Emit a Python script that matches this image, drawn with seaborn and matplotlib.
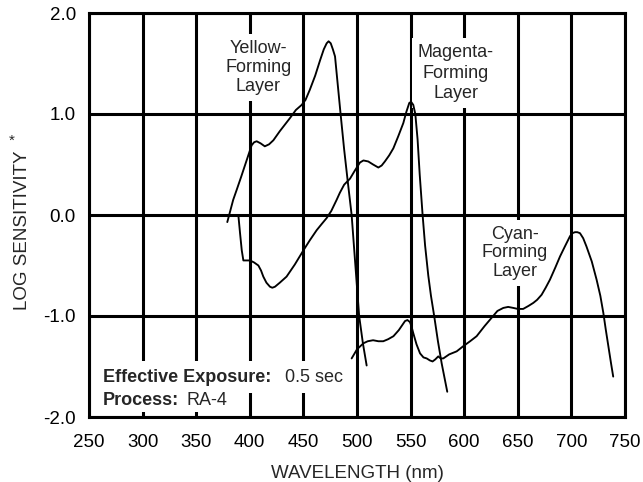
import matplotlib
matplotlib.use("Agg")
import matplotlib.pyplot as plt
import seaborn as sns
import pandas as pd

# ---- data ----
yellow_wl = [379, 381.5, 384.5, 387.8, 392, 397, 401.7, 404, 406.4, 410, 414, 418, 422, 428,
             437.5, 443, 448.4, 452, 456, 461, 465.5, 469, 471.7, 473.5, 475.5, 477.5, 479.5,
             481.5, 484.7, 488, 491.5, 495, 498.5, 502, 505.5, 509]
yellow_ls = [-0.07, 0.03, 0.15, 0.25, 0.38, 0.54, 0.69, 0.72, 0.73, 0.71, 0.68, 0.70, 0.74, 0.83,
             0.96, 1.04, 1.09, 1.14, 1.24, 1.38, 1.53, 1.64, 1.70, 1.72, 1.70, 1.64, 1.57,
             1.35, 1.0, 0.65, 0.32, 0.0, -0.5, -1.0, -1.27, -1.49]

magenta_wl = [389.3, 390.9, 392.5, 394, 397, 400.2, 404, 408, 410.5, 412.6, 415.5, 418.8, 421,
              423.5, 428, 434.3, 442, 450, 456, 462.4, 467, 471.7, 476, 481, 484, 488, 493.5,
              498, 502.8, 506, 510.5, 515, 519.9, 523, 526, 530, 533.9, 538.5, 543.2, 546,
              548.8, 550.5, 552.5, 554.4, 556.5, 558.5, 561.2, 563.5, 566.5, 569, 572, 575.5,
              579, 584.2]
magenta_ls = [0.0, -0.18, -0.35, -0.45, -0.45, -0.45, -0.47, -0.50, -0.55, -0.61, -0.67, -0.71,
              -0.72, -0.71, -0.67, -0.61, -0.49, -0.35, -0.25, -0.15, -0.09, -0.03, 0.04, 0.15,
              0.22, 0.30, 0.36, 0.44, 0.52, 0.54, 0.53, 0.50, 0.47, 0.49, 0.53, 0.59, 0.66, 0.78,
              0.91, 1.02, 1.11, 1.12, 1.09, 1.0, 0.75, 0.40, 0.0, -0.30, -0.60, -0.80, -1.0,
              -1.25, -1.47, -1.75]

cyan_wl = [495, 500, 506, 510, 515, 520, 524.5, 529, 534, 539, 544.8, 547, 549.4, 551, 552.5,
           555.5, 558.8, 562, 565, 568, 570.5, 573, 575.8, 578, 580.5, 586, 593, 599, 605.5,
           611.6, 619, 627, 631, 636.5, 641, 645.8, 650, 655, 660, 664.5, 668, 672.2, 676, 680,
           685, 689.4, 694, 698.7, 701, 703.3, 705.5, 708, 711, 714, 719, 723.5, 727, 729.8,
           732, 734.5, 737, 739]
cyan_ls = [-1.42, -1.33, -1.27, -1.25, -1.24, -1.25, -1.25, -1.23, -1.20, -1.14, -1.05, -1.04,
           -1.06, -1.11, -1.17, -1.28, -1.37, -1.41, -1.42, -1.44, -1.45, -1.43, -1.40, -1.42,
           -1.42, -1.38, -1.35, -1.30, -1.25, -1.20, -1.10, -1.00, -0.95, -0.92, -0.91, -0.92,
           -0.93, -0.93, -0.90, -0.87, -0.84, -0.79, -0.72, -0.64, -0.52, -0.41, -0.31, -0.21,
           -0.18, -0.17, -0.17, -0.18, -0.23, -0.31, -0.46, -0.64, -0.80, -0.97, -1.13, -1.30,
           -1.47, -1.60]

x_ticks = [250, 300, 350, 400, 450, 500, 550, 600, 650, 700, 750]
x_tick_labels = ["250", "300", "350", "400", "450", "500", "550", "600", "650", "700", "750"]
y_ticks = [-2, -1, 0, 1, 2]
y_tick_labels = ["-2.0", "-1.0", "0.0", "1.0", "2.0"]

layer_labels = ["Yellow-\nForming\nLayer", "Magenta-\nForming\nLayer", "Cyan-\nForming\nLayer"]
layer_label_pos = [(408, 1.46), (592, 1.405), (647, -0.376)]
layer_label_spacing = [1.15, 1.3, 1.15]

# ---- style ----
sns.set_style("white")
plt.rcParams['font.family'] = ['Liberation Sans', 'DejaVu Sans']

fig = plt.figure(figsize=(6.43, 4.82), dpi=100)
ax = fig.add_axes([89 / 643, 65 / 482, 536 / 643, 404 / 482])

curves = pd.concat([
    pd.DataFrame({"wl": yellow_wl, "ls": yellow_ls, "layer": "Yellow"}),
    pd.DataFrame({"wl": magenta_wl, "ls": magenta_ls, "layer": "Magenta"}),
    pd.DataFrame({"wl": cyan_wl, "ls": cyan_ls, "layer": "Cyan"}),
])
for name, sub in curves.groupby("layer", sort=False):
    sns.lineplot(data=sub, x="wl", y="ls", color="black", linewidth=1.35,
                 estimator=None, sort=False, ax=ax, zorder=4)

ax.set_xlim(250, 750)
ax.set_ylim(-2, 2)
ax.set_xticks(x_ticks)
ax.set_xticklabels(x_tick_labels)
ax.set_yticks(y_ticks)
ax.set_yticklabels(y_tick_labels)
ax.tick_params(axis="x", length=0, pad=12, labelsize=13.5, colors="black")
ax.tick_params(axis="y", length=0, pad=9.4, labelsize=13.5, colors="black")
ax.set_axisbelow(True)
ax.grid(True, color="black", linewidth=2.2)
for s in ax.spines.values():
    s.set_color("black")
    s.set_linewidth(2.2)
    s.set_zorder(5)

ax.set_xlabel("WAVELENGTH (nm)", fontsize=13.5, labelpad=10.5)
ax.set_ylabel("")
fig.text(23 / 643, 1 - 230 / 482, "LOG SENSITIVITY", rotation=90, ha="center", va="center",
         fontsize=13.5)
fig.text(12 / 643, 1 - 141 / 482, "*", ha="center", va="center", fontsize=11)

box = dict(facecolor="white", edgecolor="none", pad=4)
for lab, (lx, ly), lsp in zip(layer_labels, layer_label_pos, layer_label_spacing):
    ax.text(lx, ly, lab, ha="center", va="center", fontsize=13, linespacing=lsp,
            bbox=box, zorder=3)

ax.text(263, -1.604, "Effective Exposure:", ha="left", va="center", fontsize=13,
        fontweight="bold", bbox=dict(facecolor="white", edgecolor="none", pad=5.5), zorder=3)
ax.text(432.8, -1.604, "0.5 sec", ha="left", va="center", fontsize=13,
        bbox=dict(facecolor="white", edgecolor="none", pad=5.5), zorder=3)
ax.text(263, -1.832, "Process:", ha="left", va="center", fontsize=13,
        fontweight="bold", bbox=dict(facecolor="white", edgecolor="none", pad=2.5), zorder=3.1)
ax.text(341.4, -1.832, "RA-4", ha="left", va="center", fontsize=13,
        bbox=dict(facecolor="white", edgecolor="none", pad=2.5), zorder=3.1)

fig.savefig("out.png", dpi=100)
